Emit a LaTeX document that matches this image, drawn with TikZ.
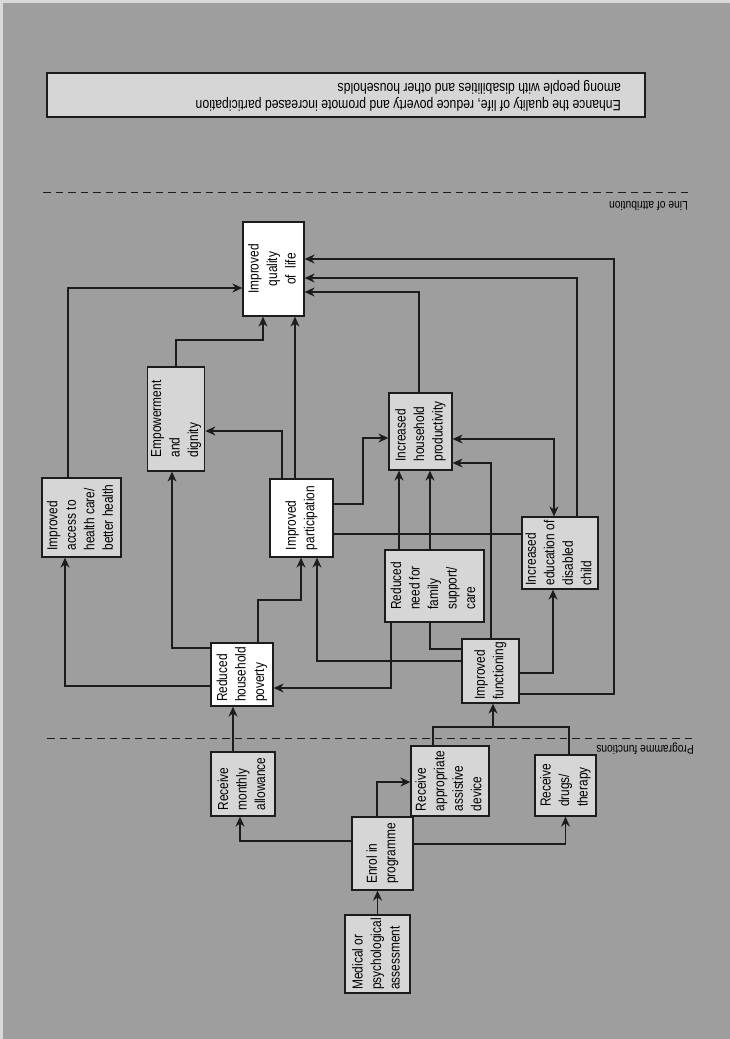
\documentclass[tikz,border=0pt]{standalone}
\usepackage{fontspec}
\setmainfont[FakeStretch=0.82]{Liberation Sans}
\usetikzlibrary{arrows.meta}

\definecolor{pagegray}{RGB}{158,158,158}
\definecolor{boxgray}{RGB}{214,214,214}
\definecolor{inkline}{RGB}{28,28,28}

% text turned a quarter, lines stacked
\newcommand{\vtext}[2][l]{\rotatebox{90}{\begin{tabular}{@{}#1@{}}#2\end{tabular}}}

\begin{document}
\begin{tikzpicture}[x=1pt,y=-1pt,
    box/.style={draw=inkline, line width=1.3pt, fill=boxgray, inner sep=1pt,
        font=\fontsize{14.5}{18.5}\selectfont},
    wbox/.style={box, fill=white},
    sz/.style 2 args={minimum width=#1pt, minimum height=#2pt},
    arr/.style={line width=1.2pt, draw=inkline, -{Stealth[length=10pt,width=9pt]}},
    arrtwo/.style={arr, {Stealth[length=10pt,width=9pt]}-{Stealth[length=10pt,width=9pt]}},
    link/.style={line width=1.2pt, draw=inkline},
    divider/.style={line width=0.9pt, draw=inkline, dash pattern=on 7.5pt off 5pt},
    tag/.style={rotate=180, inner sep=0pt, font=\fontsize{12.5}{14}\selectfont}]
    \useasboundingbox (0,0) rectangle (730,1039);

    % page
    \fill[gray!30] (0,0) rectangle (730,1039);
    \fill[pagegray] (3,3) rectangle (730,1039);

    % goal banner
    \node[box, sz={598}{44}] (goal) at (346,95) {};
    \node[tag, anchor=west, align=left, font=\fontsize{14.9}{16.5}\selectfont] (goaltext) at (621,96)
        {Enhance the quality of life, reduce poverty and promote increased participation\\
         among people with disabilities and other households};

    % dashed lines
    \coordinate (attrL) at (43,192);
    \coordinate (attrR) at (692,192);
    \draw[divider] (attrL) -- (attrR);
    \node[tag, anchor=west] (attrtag) at (688,206) {Line of attribution};
    \coordinate (progL) at (47,738);
    \coordinate (progR) at (694,738);
    \draw[divider] (progL) -- (progR);
    \node[tag, anchor=west] (progtag) at (694,749) {Programme functions};

    % outcomes
    \node[wbox, sz={61}{94}] (qol) at (273.5,269) {\vtext[c]{Improved\\quality\\of\ \ life}};
    \node[box, sz={56}{104}] (empow) at (176,419) {\vtext{Empowerment\\and\\dignity}};
    \node[box, sz={79}{79}] (access) at (81.5,517.5) {\vtext{Improved\\access to\\health care/\\better health}};
    \node[box, sz={63}{77}] (prod) at (420.5,431.5) {\vtext{Increased\\household\\productivity}};
    \node[wbox, sz={63}{78}] (part) at (301.5,518) {\vtext{Improved\\participation}};
    \node[box, sz={72}{72}] (edu) at (560,553) {\vtext{Increased\\education of\\disabled\\child}};
    \node[box, sz={99}{72}] (need) at (434.5,586) {\vtext{Reduced\\need for\\family\\support/\\care}};
    \node[wbox, sz={62}{63}] (pov) at (242,674.5) {\vtext{Reduced\\household\\poverty}};
    \node[box, sz={57}{64}] (func) at (490.5,671) {\vtext{Improved\\functioning}};

    % programme functions
    \node[box, sz={64}{64}] (allow) at (243,784) {\vtext{Receive\\monthly\\allowance}};
    \node[box, sz={78}{70}] (device) at (450,781) {\vtext{Receive\\appropriate\\assistive\\device}};
    \node[box, sz={61}{61}] (drugs) at (565.5,785.5) {\vtext{Receive\\drugs/\\therapy}};
    \node[box, sz={61}{73}] (enrol) at (382.5,853.5) {\vtext{Enrol in\\programme}};
    \node[box, sz={65}{78}] (assess) at (377.5,954) {\vtext{Medical or\\psychological\\assessment}};

    % programme arrows
    \draw[arr] (assess.north) -- (assess.north |- enrol.south);
    \draw[arr] (enrol.west |- 0,841) -| ([xshift=-3pt]allow.south);
    \draw[arr] ([xshift=-5.5pt]enrol.north) |- (device.west |- 0,782);
    \draw[arr] (enrol.east |- 0,844) -| (drugs.south);
    \draw[arr] (allow.north -| 233,0) -- (pov.south -| 233,0);
    \coordinate (join) at (493,727);
    \draw[link] (device.north -| 433,0) |- (569,727) -- (drugs.north -| 569,0);
    \draw[arr] (join) -- (func.south -| join);

    % from improved functioning
    \draw[arr] (func.east |- 0,673) -| (edu.south -| 553,0);
    \draw[arr] (func.east |- 0,694) -| (614,259) -- (qol.east |- 0,259);
    \draw[arr] (func.west |- 0,661) -| (part.south -| 317,0);
    \draw[link] (func.west |- 0,649) -| (need.south -| 430,0);
    \draw[arr] (func.north -| 491,0) |- (prod.east |- 0,463);

    % from reduced poverty
    \draw[arr] (pov.west |- 0,686) -| (access.south -| 65,0);
    \draw[arr] (pov.west |- 0,648) -| (empow.south -| 172,0);
    \draw[arr] (pov.north -| 258,0) |- (301,600) -- (part.south -| 301,0);

    % from reduced need
    \draw[arr] (need.south -| 391,0) |- (pov.east |- 0,688);
    \draw[arr] (need.north -| 399,0) -- (prod.south -| 399,0);
    \draw[arr] (need.north -| 430,0) -- (prod.south -| 430,0);

    % from improved participation
    \draw[arr] (part.east |- 0,504) -| (363,438) -- (prod.west |- 0,438);
    \draw[link] (part.east |- 0,534) -- (edu.west |- 0,534);
    \draw[arr] (part.north -| 282,0) |- (empow.east |- 0,431);
    \draw[arr] (part.north -| 295,0) -- (qol.south -| 295,0);

    % into quality of life
    \draw[arrtwo] (prod.east |- 0,439) -| (edu.north -| 554,0);
    \draw[arr] (empow.north) |- (263,340) -- (qol.south -| 263,0);
    \draw[arr] (access.north -| 68,0) |- (qol.west |- 0,288);
    \draw[arr] (prod.north -| 419,0) |- (qol.east |- 0,292);
    \draw[arr] (edu.north -| 577,0) |- (qol.east |- 0,278);
\end{tikzpicture}
\end{document}
